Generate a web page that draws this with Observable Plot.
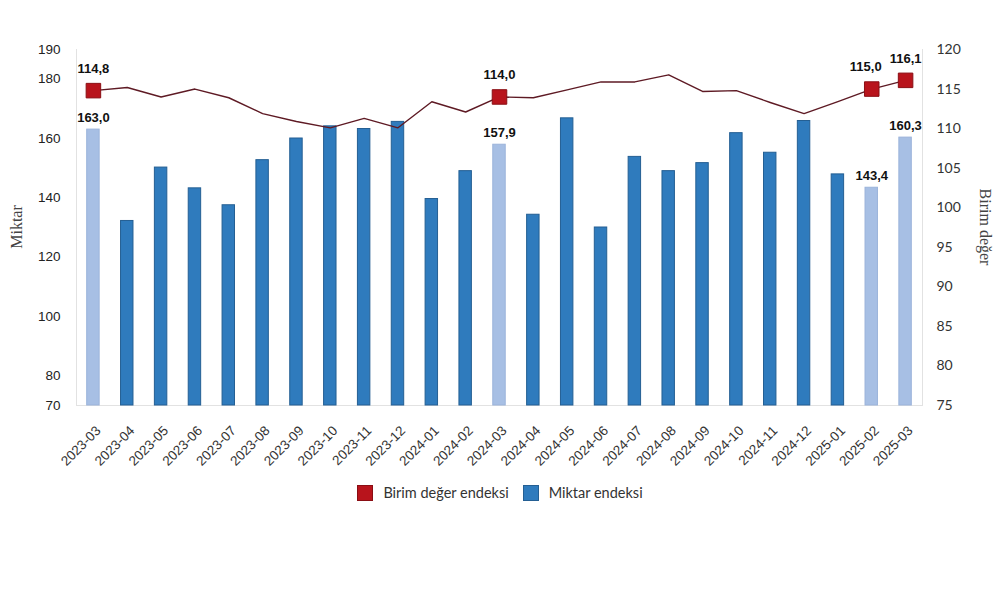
<!DOCTYPE html>
<html>
<head>
<meta charset="utf-8">
<script src="https://cdn.jsdelivr.net/npm/d3@7"></script>
<script src="https://cdn.jsdelivr.net/npm/@observablehq/plot@0.6"></script>
<style>
  body { margin: 0; background: #fff; }
  #wrap { position: relative; width: 1000px; height: 593px; overflow: hidden; }
  .ytitle { position: absolute; font-family: "Liberation Serif", "DejaVu Serif", serif; font-size: 16px; color: #444; white-space: nowrap; }
  #legend { position: absolute; top: 484px; left: 0; width: 1000px; display: flex; justify-content: center; align-items: center; font-family: Lato, "Noto Sans", sans-serif; font-size: 14.5px; color: #333; }
  .sw { display: inline-block; width: 16px; height: 16px; margin-right: 10px; box-sizing: border-box; }
  .item { display: flex; align-items: center; margin: 0 7px; }
</style>
</head>
<body>
<div id="wrap">
  <div id="chart"></div>
  <div class="ytitle" style="left:-8px; top:218px; transform: rotate(-90deg); transform-origin: center; width:50px; text-align:center;">Miktar</div>
  <div class="ytitle" style="left:945px; top:218px; transform: rotate(90deg); transform-origin: center; width:80px; text-align:center;">Birim değer</div>
  <div id="legend">
    <span class="item"><span class="sw" style="background:#b8141c; border:1px solid #8a0e14;"></span>Birim değer endeksi</span>
    <span class="item"><span class="sw" style="background:#2f7bbd; border:1px solid #245f93;"></span>Miktar endeksi</span>
  </div>
</div>
<script>
const months = ["2023-03","2023-04","2023-05","2023-06","2023-07","2023-08","2023-09","2023-10","2023-11","2023-12",
  "2024-01","2024-02","2024-03","2024-04","2024-05","2024-06","2024-07","2024-08","2024-09","2024-10","2024-11","2024-12",
  "2025-01","2025-02","2025-03"];
const miktar = [163.0,132.2,150.2,143.2,137.5,152.7,160.0,164.1,163.2,165.6,
  139.6,149.0,157.9,134.3,166.8,130.0,153.8,149.0,151.7,161.8,155.2,165.9,
  147.9,143.4,160.3];
const birim = [114.8,115.2,114.0,115.0,113.9,111.9,110.9,110.1,111.3,110.1,
  113.4,112.1,114.0,113.9,114.9,115.9,115.9,116.8,114.7,114.8,113.3,111.9,
  113.4,115.0,116.1];
const highlighted = ["2023-03","2024-03","2025-02","2025-03"];
const leftTicks = [190,180,160,140,120,100,80,70];
const rightTicks = [120,115,110,105,100,95,90,85,80,75];

// right axis 75..120 maps onto left axis 70..190
const toLeft = v => 70 + (v - 75) * 120 / 45;
const fromLeft = v => 75 + (v - 70) * 45 / 120;
const fmt = v => v.toFixed(1).replace(".", ",");

const data = months.map((m, i) => ({month: m, miktar: miktar[i], birim: birim[i], hl: highlighted.includes(m)}));
const hlData = data.filter(d => d.hl);
const lineLabels = hlData.filter(d => d.month !== "2025-02");
const lineLabelShifted = hlData.filter(d => d.month === "2025-02");

const chart = Plot.plot({
  width: 1000,
  height: 480,
  marginTop: 49,
  marginBottom: 75,
  marginLeft: 76,
  marginRight: 78,
  style: {fontFamily: "'Liberation Sans', Arial, sans-serif", fontSize: "13px", color: "#222", background: "#fff"},
  x: {domain: months, padding: 0, round: false},
  y: {domain: [70, 190]},
  marks: [
    Plot.frame({anchor: "left", stroke: "#e2e2e2"}),
    Plot.frame({anchor: "right", stroke: "#e2e2e2"}),
    Plot.ruleY([70], {stroke: "#e2e2e2"}),
    Plot.barY(data, {x: "month", y1: 70, y2: "miktar", insetLeft: 10.7, insetRight: 10.7,
      fill: d => d.hl ? "#a7bfe4" : "#2f7bbd",
      stroke: d => d.hl ? "#9bb3da" : "#245f93", strokeWidth: 1}),
    Plot.axisY({ticks: leftTicks, tickSize: 0, tickPadding: 16, label: null, fontSize: 13.5, fill: "#222"}),
    Plot.axisY({anchor: "right", ticks: rightTicks.map(toLeft), tickFormat: d => String(Math.round(fromLeft(d))),
      tickSize: 0, tickPadding: 14, label: null, fontFamily: "Lato, 'Noto Sans', sans-serif", fontSize: 14, fill: "#333"}),
    Plot.axisX({tickRotate: -45, tickSize: 0, tickPadding: 23, dx: 5, label: null, fontSize: 13.5, fill: "#333"}),
    Plot.lineY(data, {x: "month", y: d => toLeft(d.birim), stroke: "#5e1a24", strokeWidth: 1.4}),
    Plot.dot(hlData, {x: "month", y: d => toLeft(d.birim), symbol: "square", r: 8.2,
      fill: "#b8141c", stroke: "#8a0e14", strokeWidth: 1}),
    Plot.text(lineLabels, {x: "month", y: d => toLeft(d.birim), text: d => fmt(d.birim), dy: -22,
      fontWeight: "bold", fontSize: 13, fill: "#111"}),
    Plot.text(lineLabelShifted, {x: "month", y: d => toLeft(d.birim), text: d => fmt(d.birim), dy: -22, dx: -6,
      fontWeight: "bold", fontSize: 13, fill: "#111"}),
    Plot.text(hlData, {x: "month", y: "miktar", text: d => fmt(d.miktar), dy: -12,
      fontWeight: "bold", fontSize: 13, fill: "#111"})
  ]
});
document.getElementById("chart").appendChild(chart);
</script>
</body>
</html>
